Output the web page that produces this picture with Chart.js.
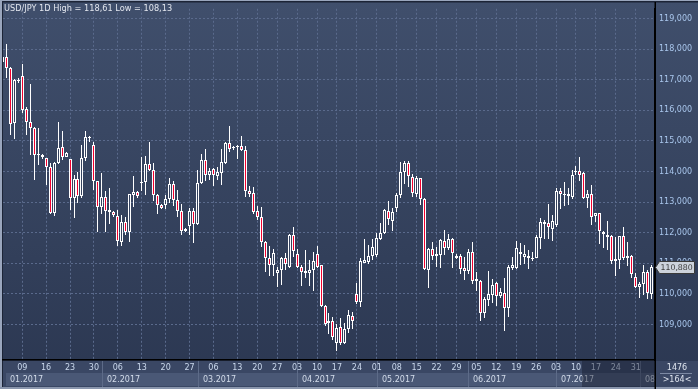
<!DOCTYPE html>
<html>
<head>
<meta charset="utf-8">
<script src="https://cdn.jsdelivr.net/npm/chart.js@4.4.0/dist/chart.umd.min.js"></script>
<style>
  html, body { margin: 0; padding: 0; background: #2f3b57; }
</style>
</head>
<body>
<canvas id="myChart" width="698" height="389"></canvas>
<script>
// USD/JPY daily bars (one value per bar, left to right)
var openVals = [117.59,117.73,117.40,115.58,116.97,117.11,116.03,115.61,115.42,114.55,
  114.54,114.43,114.14,112.64,114.29,114.81,114.48,114.40,113.12,113.76,
  113.20,114.45,115.10,114.88,113.68,112.84,113.18,112.75,112.69,112.56,
  111.70,112.34,112.04,113.22,113.33,113.64,113.65,114.24,114.06,113.22,
  112.91,112.91,113.09,113.58,113.07,112.72,112.13,112.23,112.72,112.29,
  113.63,114.38,113.89,114.08,113.86,113.96,114.29,114.93,114.76,114.80,
  114.82,114.71,113.36,113.31,112.72,112.52,111.70,111.16,110.93,110.69,
  110.79,111.16,110.89,111.93,111.30,110.89,110.75,110.68,110.79,111.30,
  110.93,109.61,109.06,109.10,108.40,108.91,108.40,108.86,109.27,110.00,
  109.74,111.02,111.03,111.25,111.27,111.81,111.99,112.72,112.38,112.80,
  113.22,113.97,114.27,113.82,113.26,113.78,113.11,110.79,111.48,111.25,
  111.27,111.74,111.49,111.81,111.19,111.23,110.84,110.76,111.38,110.49,
  110.43,109.39,109.79,109.95,110.36,109.93,110.04,109.55,110.84,110.85,
  111.38,111.22,111.16,111.13,111.18,111.84,112.29,112.31,112.13,112.26,
  113.36,113.22,113.27,113.17,113.98,114.03,113.95,113.15,113.27,112.56,
  112.63,111.95,111.94,111.88,111.08,111.11,111.88,111.16,111.24,110.54,
  110.23,110.34,110.73,110.00];
var highVals = [118.61,118.18,117.43,117.02,117.05,117.51,116.10,116.86,115.45,115.43,
  114.56,114.45,114.27,114.30,115.61,115.34,114.63,114.42,113.90,113.97,
  114.86,115.34,115.15,114.95,113.70,113.95,113.36,113.47,112.70,112.75,
  112.58,112.52,113.28,113.84,113.35,114.48,114.50,114.97,114.29,113.25,
  112.93,113.22,113.79,113.68,113.41,112.93,112.16,112.82,112.82,114.06,
  114.59,114.75,114.10,114.11,114.14,114.75,114.97,115.48,114.82,114.86,
  115.15,114.82,113.54,113.50,112.86,112.85,111.73,111.56,111.48,110.87,
  111.22,111.33,111.96,112.18,111.48,110.94,111.45,111.11,111.38,111.56,
  110.95,109.63,109.38,109.23,109.02,109.21,109.05,109.47,109.42,110.36,
  111.16,111.78,111.59,111.80,111.99,112.31,112.77,113.04,112.80,113.31,
  114.32,114.35,114.35,113.93,113.84,113.80,113.14,111.50,111.69,111.54,
  111.78,112.10,111.97,111.84,111.30,111.29,111.22,111.46,111.70,110.71,
  110.47,109.90,110.75,110.50,110.39,110.20,110.52,110.95,111.20,111.72,
  111.65,111.60,111.42,111.38,111.91,112.48,112.41,112.93,112.58,113.47,
  113.47,113.65,113.47,114.06,114.17,114.48,113.97,113.41,113.57,112.66,
  112.66,112.07,112.39,111.91,111.86,111.90,112.20,111.70,111.27,110.68,
  110.39,110.95,110.78,110.96];
var lowVals = [117.50,117.06,115.21,115.07,116.90,115.90,115.18,114.54,113.73,114.22,
  114.40,113.57,112.60,112.55,114.25,114.38,114.46,112.75,112.48,112.98,
  113.15,114.36,114.97,113.41,112.04,112.61,112.04,112.29,112.53,111.57,
  111.57,111.91,111.70,112.84,113.12,113.36,113.22,114.02,113.04,112.61,
  112.77,112.77,112.98,112.86,112.50,111.91,112.04,111.91,111.68,112.25,
  113.60,113.68,113.72,113.52,113.73,113.57,114.25,114.65,114.70,114.41,
  114.66,113.18,113.18,112.60,112.42,111.52,110.71,110.60,110.60,110.22,
  110.30,110.79,110.86,111.22,110.84,110.25,110.51,110.27,110.09,110.86,
  109.56,108.94,108.68,108.50,108.13,108.32,108.37,108.72,108.86,109.66,
  109.56,111.00,110.99,111.11,111.22,111.76,111.96,112.25,112.06,112.69,
  113.12,113.58,113.50,113.18,113.18,112.90,110.79,110.20,111.10,110.89,
  110.84,111.27,111.43,110.86,111.15,110.65,110.47,110.65,110.32,110.10,
  109.12,109.21,109.61,109.70,109.61,109.88,108.80,109.23,110.79,110.80,
  110.96,110.98,110.81,111.08,111.16,111.46,111.81,111.79,111.72,112.20,
  112.79,112.86,112.90,113.09,113.88,113.68,113.11,112.82,112.24,112.34,
  111.64,111.50,111.42,110.98,110.57,110.82,111.12,110.92,110.52,110.20,
  109.88,109.98,109.83,109.83];
var closeVals = [117.75,117.38,115.56,117.00,117.00,116.00,115.61,115.42,114.54,114.57,
  114.46,114.14,112.63,114.29,114.78,114.48,114.61,113.12,113.76,113.20,
  114.45,115.13,115.14,113.68,112.84,113.18,112.72,112.68,112.58,111.72,
  112.34,112.04,113.25,113.33,113.20,113.66,114.24,114.06,113.22,112.92,
  112.80,113.11,113.58,113.07,112.72,112.07,112.07,112.72,112.29,113.63,
  114.38,113.89,114.02,113.89,113.97,114.32,114.93,114.73,114.80,114.83,
  114.71,113.36,113.28,112.68,112.52,111.70,111.16,110.93,111.34,110.79,
  111.16,110.98,111.93,111.41,110.87,110.73,110.68,110.79,111.09,110.89,
  109.59,109.02,109.10,108.59,108.89,108.40,108.86,109.31,109.10,109.74,
  111.09,111.10,111.25,111.54,111.83,111.99,112.75,112.45,112.69,113.24,
  113.97,114.27,113.84,113.31,113.79,113.09,110.82,111.48,111.25,111.29,
  111.76,111.49,111.81,111.34,111.23,110.82,110.76,111.38,110.41,110.42,
  109.39,109.82,110.00,110.30,109.93,110.07,109.55,110.89,110.95,111.50,
  111.30,111.31,111.25,111.17,111.86,112.34,112.34,112.18,112.39,113.36,
  113.25,113.27,113.20,113.88,114.03,113.90,113.15,113.27,112.53,112.63,
  112.07,112.04,111.86,111.08,111.13,111.88,111.16,111.24,110.65,110.23,
  110.34,110.73,110.04,110.88];

// time axis: bar index of each Monday tick and its label
var weekIdx = [5,11,17,23,29,35,41,47,53,59,64,69,74,79,84,89,94,99,104,109,114,119,124,129,134,139,144,149,154,159];
var weekLabels = ['09','16','23','30','06','13','20','27','06','13','20','27','03','10','17','24','01','08','15','22','29','05','12','19','26','03','10','17','24','31'];
// first bar of each month and the month label
var monthIdx = [0,25,49,74,94,117,139,160];
var monthLabels = ['01.2017','02.2017','03.2017','04.2017','05.2017','06.2017','07.2017','08.2017'];
// price ticks on the right axis
var priceTicks = [109,110,111,112,113,114,115,116,117,118,119];

var FONT = '"DejaVu Sans", sans-serif';
var RED = '#f2002e';
var HOLLOW = '#36435f';

var barIdx = closeVals.map(function (v, i) { return i; });

//background, frame and the time axis strip
var terminalLook = {
  id: 'terminalLook',
  beforeDraw: function (chart) {
    var c = chart.ctx;
    var g = c.createLinearGradient(0, 0, 0, 389);
    g.addColorStop(0, '#404f6c');
    g.addColorStop(1, '#2b3751');
    c.save();
    c.fillStyle = g;
    c.fillRect(0, 0, 698, 389);
    // time strip
    c.fillStyle = '#3a4764';
    c.fillRect(0, 361, 698, 28);
    // outer frame
    c.fillStyle = '#9aa6bd';
    c.fillRect(0, 0, 698, 1);
    c.fillRect(0, 0, 2, 389);
    c.fillStyle = '#1c2436';
    c.fillRect(2, 1, 696, 1.5);
    c.fillRect(2, 1, 1, 388);
    c.fillStyle = '#8a96ad';
    c.fillRect(0, 387, 698, 2);
    c.restore();
  },
  // snap candles to whole pixels so they stay crisp
  beforeDatasetsDraw: function (chart) {
    chart.data.datasets.forEach(function (ds, i) {
      chart.getDatasetMeta(i).data.forEach(function (el) {
        el.x = Math.round(el.x - 0.5) + 0.5;
        var top = Math.round(Math.min(el.y, el.base));
        var bot = Math.round(Math.max(el.y, el.base));
        if (bot - top < 1) bot = top + 1;
        el.y = top;
        el.base = bot;
      });
    });
  },
  afterDraw: function (chart) {
    var c = chart.ctx;
    var xs = chart.scales.x;
    var ys = chart.scales.y;
    var area = chart.chartArea;
    c.save();

    // month boxes
    var seps = monthIdx.map(function (k) { return Math.round(xs.getPixelForValue(k)); });
    c.save();
    c.beginPath();
    c.rect(3, 361, area.right - 3, 27);
    c.clip();
    c.font = '8px ' + FONT;
    c.textBaseline = 'middle';
    for (var m = 0; m < monthIdx.length; m++) {
      var left = Math.max(seps[m] + 1, 6);
      var right = m + 1 < seps.length ? seps[m + 1] : area.right;
      c.fillStyle = '#4a5876';
      c.fillRect(left, 373, right - left, 13);
      if (seps[m] > 6) {
        c.fillStyle = '#5d6b88';
        c.fillRect(seps[m], 361, 1, 26);
      }
      c.fillStyle = '#d3dcea';
      c.textAlign = 'left';
      c.save();
      c.beginPath();
      c.rect(left, 373, right - left, 13);
      c.clip();
      c.fillText(monthLabels[m], left + 4, 380);
      c.restore();
    }
    // week labels
    c.fillStyle = '#cad8ec';
    c.textAlign = 'center';
    for (var w = 0; w < weekIdx.length; w++) {
      c.fillText(weekLabels[w], xs.getPixelForValue(weekIdx[w]), 368);
    }
    c.restore();

    // shaded end of the time strip
    c.fillStyle = 'rgba(18,24,40,0.42)';
    c.fillRect(582, 361, area.right - 582, 26);

    // right border runs down through the strip
    c.fillStyle = '#000000';
    c.fillRect(area.right - 0.5, 2, 1.5, 387);

    // corner box
    c.fillStyle = '#dfe5ef';
    c.font = '8px ' + FONT;
    c.textAlign = 'center';
    c.textBaseline = 'middle';
    c.fillText('1476', 677, 367.5);
    c.fillText('>164<', 677, 380);
    c.fillStyle = '#7c89a3';
    c.fillRect(660, 373, 32, 1);

    // last price tag
    var last = closeVals[closeVals.length - 1];
    var py = Math.round(ys.getPixelForValue(last)) + 0.5;
    c.beginPath();
    c.moveTo(655.5, py);
    c.lineTo(659.5, py - 6);
    c.lineTo(694.5, py - 6);
    c.lineTo(694.5, py + 6);
    c.lineTo(659.5, py + 6);
    c.closePath();
    c.fillStyle = '#cdd3dc';
    c.fill();
    c.strokeStyle = '#3a3a3a';
    c.lineWidth = 1;
    c.stroke();
    c.fillStyle = '#3b3b3b';
    c.textAlign = 'left';
    c.font = '7.8px ' + FONT;
    c.fillText(last.toFixed(3).replace('.', ','), 660.5, py);

    // header text
    var hi = Math.max.apply(null, highVals).toFixed(2).replace('.', ',');
    var lo = Math.min.apply(null, lowVals).toFixed(2).replace('.', ',');
    c.fillStyle = '#e2e6ee';
    c.font = '8.2px ' + FONT;
    c.textAlign = 'left';
    c.textBaseline = 'middle';
    c.fillText('USD/JPY 1D High = ' + hi + ' Low = ' + lo, 4, 8.5);
    c.restore();
  }
};

var ctx = document.getElementById('myChart').getContext('2d');

var myChart = new Chart(ctx, {
  type: 'bar',
  data: {
    datasets: [{
      // wicks
      data: barIdx.map(function (k) { return { x: k, y: [lowVals[k], highVals[k]] }; }),
      backgroundColor: '#ffffff',
      borderWidth: 0,
      barThickness: 1,
      grouped: false,
      inflateAmount: 0,
      order: 2
    }, {
      // bodies
      data: barIdx.map(function (k) { return { x: k, y: [openVals[k], closeVals[k]] }; }),
      backgroundColor: barIdx.map(function (k) { return closeVals[k] < openVals[k] ? RED : HOLLOW; }),
      borderColor: '#ffffff',
      borderWidth: 1,
      borderSkipped: false,
      barThickness: 3,
      grouped: false,
      inflateAmount: 0,
      order: 1
    }]
  },
  options: {
    responsive: false,
    animation: false,
    events: [],
    layout: { padding: { left: 3, top: 3, right: 0, bottom: 0 } },
    plugins: {
      legend: { display: false },
      tooltip: { enabled: false }
    },
    scales: {
      x: {
        type: 'linear',
        offset: false,
        min: 0.176,
        max: 163.83,
        afterBuildTicks: function (s) { s.ticks = weekIdx.map(function (v) { return { value: v }; }); },
        afterFit: function (s) { s.height = 29; },
        ticks: { display: false },
        grid: { offset: false, color: '#5a6a8c', lineWidth: 1, drawTicks: false },
        border: { color: '#000000', width: 1.5, dash: [2, 2] }
      },
      y: {
        position: 'right',
        min: 107.84,
        max: 119.32,
        afterBuildTicks: function (s) { s.ticks = priceTicks.map(function (v) { return { value: v }; }); },
        afterFit: function (s) { s.width = 43; },
        ticks: {
          color: '#a9c6ec',
          padding: 4,
          font: { family: FONT, size: 8 },
          callback: function (v) { return v.toFixed(3).replace('.', ','); }
        },
        grid: { color: '#5a6a8c', lineWidth: 1, drawTicks: false },
        border: { color: '#000000', width: 1.5, dash: [2, 2] }
      }
    }
  },
  plugins: [terminalLook]
});
</script>
</body>
</html>
